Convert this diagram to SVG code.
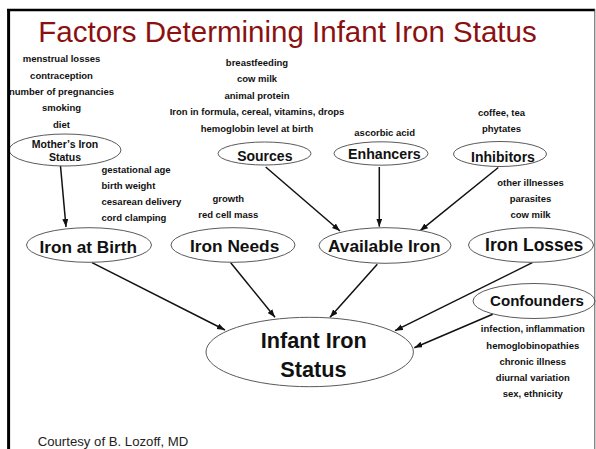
<svg xmlns="http://www.w3.org/2000/svg" width="596" height="449" viewBox="0 0 596 449">
<style>
.t{font-family:"Liberation Sans",Arial,sans-serif;font-weight:bold;fill:#111;text-anchor:middle}
.s{font-size:9.5px}
.l{text-anchor:start}
.n{fill:#fff;stroke:#5a5a5a;stroke-width:1}
.c line{stroke:#111;stroke-width:1.5;marker-end:url(#ah)}
</style>
<defs>
<marker id="ah" markerUnits="userSpaceOnUse" markerWidth="9" markerHeight="7" refX="8" refY="3" orient="auto">
<path d="M0,0 L8,3 L0,6 z" fill="#111"/>
</marker>
</defs>
<rect width="596" height="449" fill="#fff"/>
<text x="287.5" y="42" font-family="'Liberation Sans',Arial,sans-serif" font-size="29.5" fill="#8b1111" text-anchor="middle">Factors Determining Infant Iron Status</text>

<g id="mother-factors" class="t s">
<text x="61.5" y="62.3">menstrual losses</text>
<text x="61.5" y="78.5">contraception</text>
<text x="61.5" y="94.7">number of pregnancies</text>
<text x="61.5" y="111">smoking</text>
<text x="61.5" y="127.5">diet</text>
</g>
<g id="sources-factors" class="t s">
<text x="257" y="65.7">breastfeeding</text>
<text x="257" y="82">cow milk</text>
<text x="257" y="98.5">animal protein</text>
<text x="257" y="115">Iron in formula, cereal, vitamins, drops</text>
<text x="257" y="131.5">hemoglobin level at birth</text>
</g>
<g id="enhancers-factors" class="t s">
<text x="384.7" y="136">ascorbic acid</text>
</g>
<g id="inhibitors-factors" class="t s">
<text x="501.5" y="116.3">coffee, tea</text>
<text x="501.5" y="132.3">phytates</text>
</g>
<g id="birth-factors" class="t s l">
<text x="101.5" y="172.5">gestational age</text>
<text x="101.5" y="188.7">birth weight</text>
<text x="101.5" y="205">cesarean delivery</text>
<text x="101.5" y="221.3">cord clamping</text>
</g>
<g id="needs-factors" class="t s">
<text x="228.3" y="201.5">growth</text>
<text x="228.3" y="217.7">red cell mass</text>
</g>
<g id="losses-factors" class="t s">
<text x="530.5" y="185.7">other illnesses</text>
<text x="530.5" y="201.8">parasites</text>
<text x="530.5" y="217.7">cow milk</text>
</g>
<g id="confounder-factors" class="t s">
<text x="532.8" y="332.3">infection, inflammation</text>
<text x="532.8" y="348.5">hemoglobinopathies</text>
<text x="532.8" y="364.8">chronic illness</text>
<text x="532.8" y="381">diurnal variation</text>
<text x="532.8" y="397">sex, ethnicity</text>
</g>

<g id="connectors" class="c">
<line x1="60.5" y1="166" x2="66" y2="227"/>
<line x1="265.7" y1="167" x2="340" y2="231"/>
<line x1="379.3" y1="167" x2="379.3" y2="226.7"/>
<line x1="498.3" y1="167.5" x2="420" y2="230.8"/>
<line x1="92" y1="262.7" x2="225" y2="330"/>
<line x1="230.7" y1="262.7" x2="275" y2="317.3"/>
<line x1="377.3" y1="264.3" x2="330" y2="317.3"/>
<line x1="532.3" y1="262.7" x2="395" y2="330.7"/>
<line x1="492.7" y1="314.3" x2="414.3" y2="347.7"/>
</g>

<g id="mother">
<ellipse class="n" cx="65" cy="150" rx="56" ry="16"/>
<text class="t" x="65" y="147.5" font-size="10.5">Mother’s Iron</text>
<text class="t" x="65" y="161" font-size="10.5">Status</text>
</g>
<g id="sources">
<ellipse class="n" cx="264.5" cy="153.5" rx="46.5" ry="11.5"/>
<text class="t" x="264.8" y="160.5" font-size="14">Sources</text>
</g>
<g id="enhancers">
<ellipse class="n" cx="381" cy="153.5" rx="47" ry="11.7"/>
<text class="t" x="384.3" y="158.5" font-size="14.2">Enhancers</text>
</g>
<g id="inhibitors">
<ellipse class="n" cx="500" cy="154" rx="46.5" ry="12.5"/>
<text class="t" x="503" y="161.5" font-size="14">Inhibitors</text>
</g>
<g id="iron-at-birth">
<ellipse class="n" cx="89" cy="245" rx="62.5" ry="17.3"/>
<text class="t" x="88.2" y="252.8" font-size="17.2">Iron at Birth</text>
</g>
<g id="iron-needs">
<ellipse class="n" cx="233" cy="245" rx="62" ry="17.3"/>
<text class="t" x="234.6" y="252" font-size="17.3">Iron Needs</text>
</g>
<g id="available-iron">
<ellipse class="n" cx="385" cy="245.5" rx="66" ry="17.8"/>
<text class="t" x="384.3" y="252" font-size="17.3">Available Iron</text>
</g>
<g id="iron-losses">
<ellipse class="n" cx="531" cy="245" rx="62.5" ry="17.3"/>
<text class="t" x="534.2" y="250.5" font-size="17.5">Iron Losses</text>
</g>
<g id="confounders">
<ellipse class="n" cx="534" cy="301" rx="61" ry="17.5"/>
<text class="t" x="537" y="306" font-size="15.1">Confounders</text>
</g>
<g id="infant-iron-status">
<ellipse class="n" cx="309.7" cy="352" rx="103.7" ry="34.7"/>
<text class="t" x="313.7" y="348.3" font-size="21.7">Infant Iron</text>
<text class="t" x="313.4" y="376.7" font-size="21.7">Status</text>
</g>

<text x="37.7" y="445.5" font-family="'Liberation Sans',Arial,sans-serif" font-size="12.5" fill="#222" textLength="150.6" lengthAdjust="spacingAndGlyphs">Courtesy of B. Lozoff, MD</text>

<g id="frame">
<line x1="7" y1="10" x2="595" y2="10" stroke="#000" stroke-width="2.5"/>
<line x1="8.6" y1="9" x2="8.6" y2="449" stroke="#000" stroke-width="3"/>
<line x1="594.8" y1="9" x2="594.8" y2="449" stroke="#555" stroke-width="1"/>
</g>
</svg>
